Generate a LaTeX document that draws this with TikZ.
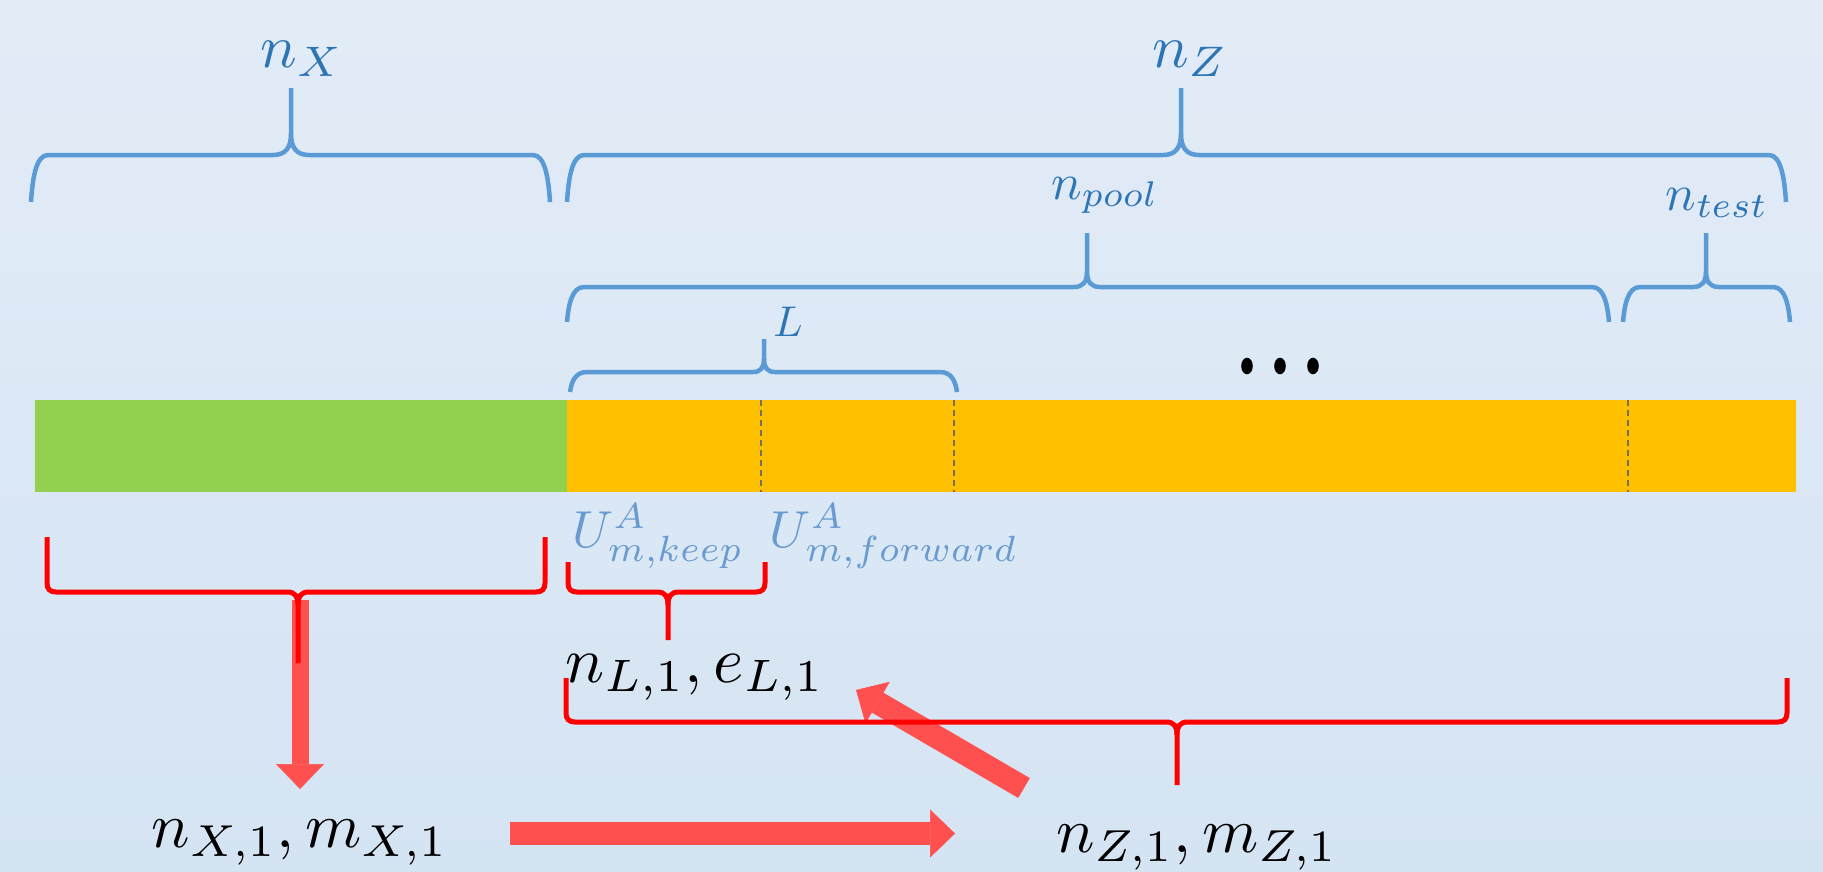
\documentclass[tikz,border=0pt]{standalone}
\usetikzlibrary{arrows.meta}
\definecolor{bgtop}{RGB}{226,236,247}
\definecolor{bgbot}{RGB}{213,228,243}
\definecolor{brblue}{RGB}{91,155,213}
\definecolor{lblblue}{RGB}{46,117,182}
\definecolor{ublue}{RGB}{105,155,208}
\definecolor{barG}{RGB}{146,208,80}
\definecolor{barO}{RGB}{255,192,0}
\definecolor{brred}{RGB}{255,0,0}
\definecolor{arred}{RGB}{255,80,80}
\definecolor{dashgray}{RGB}{120,110,90}
\tikzset{
  bluebr/.style={draw=brblue, line width=4.5pt},
  redbr/.style={draw=brred, line width=5pt},
  toplbl/.style={text=lblblue, inner sep=0pt, anchor=base},
  ulbl/.style={text=ublue, inner sep=0pt, anchor=base},
  blklbl/.style={text=black, inner sep=0pt, anchor=base},
  blockarrow/.style={draw=arred, line width=#1, -{Triangle[length=25pt,width=48pt,line width=0.5pt]}},
  sepline/.style={draw=dashgray, line width=2pt, dash pattern=on 6pt off 4pt},
}
% xL xR yl ye xt yt tiphalfwidth
\newcommand{\bluebrace}[7]{%
  \draw[bluebr] (#1,#4) .. controls ({#1+1.5},{(#3+#4)/2}) and ({#1+5},#3) .. ({#1+17},#3)
     -- ({#5-#7},#3) .. controls ({#5-0.3*#7},#3) and (#5,{#3-0.4*#7}) .. (#5,{#3-1.2*#7}) -- (#5,#6);
  \draw[bluebr] (#5,{#3-1.2*#7}) .. controls (#5,{#3-0.4*#7}) and ({#5+0.3*#7},#3) .. ({#5+#7},#3)
     -- ({#2-17},#3) .. controls ({#2-5},#3) and ({#2-1.5},{(#3+#4)/2}) .. (#2,#4);
}
% xL xR yl ye xt yt
\newcommand{\redbrace}[6]{%
  \draw[redbr] (#1,#4) -- (#1,{#3-9}) .. controls (#1,{#3-3}) and ({#1+3},#3) .. ({#1+9},#3)
     -- ({#5-11},#3) .. controls ({#5-3},#3) and (#5,{#3+4}) .. (#5,{#3+13}) -- (#5,#6);
  \draw[redbr] (#5,{#3+13}) .. controls (#5,{#3+4}) and ({#5+3},#3) .. ({#5+11},#3)
     -- ({#2-9},#3) .. controls ({#2-3},#3) and (#2,{#3-3}) .. (#2,{#3-9}) -- (#2,#4);
}
\begin{document}
\begin{tikzpicture}[x=1pt,y=-1pt]
\useasboundingbox (0,0) rectangle (1823,871);
\shade[top color=bgtop, bottom color=bgbot] (0,0) rectangle (1823,871);

% bar
\fill[barG] (35,400) rectangle (567,492);
\fill[barO] (567,400) rectangle (1796,492);
\draw[sepline] (761,400) -- (761,492);
\draw[sepline] (954,400) -- (954,492);
\draw[sepline] (1628,400) -- (1628,492);

% blue braces
\bluebrace{31}{550}{155}{202}{291}{88}{18}
\bluebrace{567}{1786}{155}{202}{1181}{88}{18}
\bluebrace{567}{1609}{287}{322}{1087}{233}{13}
\bluebrace{1623}{1790}{287}{322}{1706}{233}{13}
\bluebrace{570}{957}{372}{392}{764}{339}{11}

% labels
\node[toplbl, scale=6.1] (nX) at (302,67) {$n_X$};
\node[toplbl, scale=6.1] (nZ) at (1190,67) {$n_Z$};
\node[toplbl, scale=5.1] (npool) at (1105,199) {$n_{pool}$};
\node[toplbl, scale=5.1] (ntest) at (1717,210) {$n_{test}$};
\node[toplbl, scale=4.3] (Llbl) at (788,336) {$L$};
\node[ulbl, scale=5.2] (ukeep) at (658,547) {$U^A_{m,keep}$};
\node[ulbl, scale=5.2] (ufwd) at (894,547) {$U^A_{m,forward}$};
\node[blklbl, scale=6.5] (nL1) at (695,682) {$n_{L,1},e_{L,1}$};
\node[blklbl, scale=6.4] (nX1) at (300,847) {$n_{X,1},m_{X,1}$};
\node[blklbl, scale=6.4] (nZ1) at (1197,852) {$n_{Z,1},m_{Z,1}$};

% dots
\foreach \dx in {1247,1280,1313} \fill[black] (\dx,366) ellipse [x radius=5.8pt, y radius=8.3pt];

% arrows
\coordinate (vA) at (300,600);
\coordinate (vB) at (300,789);
\coordinate (hA) at (510,833.5);
\coordinate (hB) at (955,833.5);
\coordinate (dA) at (1024,788);
\coordinate (dB) at (856,690);
\draw[blockarrow=17pt] (vA) -- (vB);
\draw[blockarrow=23pt] (hA) -- (hB);
\draw[blockarrow=23pt] (dA) -- (dB);

% red braces
\redbrace{47}{545}{592}{537}{298}{663}
\redbrace{568}{765}{592}{562}{668}{640}
\redbrace{566}{1787}{722}{678}{1177}{785}
\end{tikzpicture}
\end{document}
